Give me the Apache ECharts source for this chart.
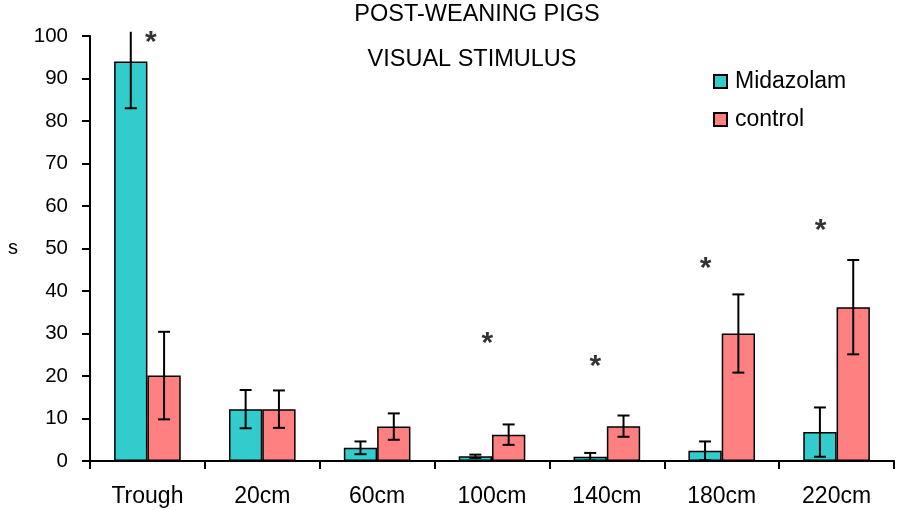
<!DOCTYPE html>
<html>
<head>
<meta charset="utf-8">
<script src="https://cdn.jsdelivr.net/npm/echarts@6/dist/echarts.min.js"></script>
<style>html,body{margin:0;padding:0;background:#fff;}#c{width:897px;height:510px;}</style>
</head>
<body>
<div id="c"></div>
<script>
const categories = ['Trough', '20cm', '60cm', '100cm', '140cm', '180cm', '220cm'];
const midazolam = [94.0, 12.2, 3.1, 1.1, 1.0, 2.4, 6.8];
const midazolamErr = [11.0, 4.5, 1.5, 0.4, 0.9, 2.2, 5.8];
const control = [20.1, 12.2, 8.1, 6.2, 8.2, 30.0, 36.2];
const controlErr = [10.3, 4.4, 3.1, 2.4, 2.5, 9.2, 11.1];
// significance asterisks: [position along category axis (0..7), value]
const asterisks = [[0.53, 99.7], [3.46, 28.7], [4.40, 23.3], [5.36, 46.3], [6.36, 55.3]];
const yMin = 0, yMax = 100, yStep = 10;
const errClip = 101;

const FONT = '"Liberation Sans", Arial, sans-serif';
const BAR_FRAC = 0.58;

function errRender(side) {
  return function (params, api) {
    const i = api.value(0), v = api.value(1), e = api.value(2);
    const bandW = api.size([1, 0])[0];
    const barW = bandW * BAR_FRAC / 2;
    const cx = api.coord([i, v])[0] + side * barW / 2;
    const hiVal = Math.min(v + e, errClip);
    const yHi = api.coord([i, hiVal])[1];
    const yLo = api.coord([i, v - e])[1];
    const cap = 6;
    const st = { stroke: '#000', lineWidth: 2 };
    const children = [
      { type: 'line', shape: { x1: cx, y1: yHi, x2: cx, y2: yLo }, style: st },
      { type: 'line', shape: { x1: cx - cap, y1: yLo, x2: cx + cap, y2: yLo }, style: st }
    ];
    if (v + e <= errClip) {
      children.push({ type: 'line', shape: { x1: cx - cap, y1: yHi, x2: cx + cap, y2: yHi }, style: st });
    }
    return { type: 'group', children: children };
  };
}

const chart = echarts.init(document.getElementById('c'), null, { renderer: 'canvas' });
chart.setOption({
  animation: false,
  backgroundColor: '#fff',
  textStyle: { fontFamily: FONT },
  graphic: [
    { type: 'text', x: 477, y: 15, style: { text: 'POST-WEANING PIGS', font: '23.5px ' + FONT, fill: '#000', textAlign: 'center', textVerticalAlign: 'middle' } },
    { type: 'text', x: 472, y: 59.5, style: { text: 'VISUAL STIMULUS', font: '23.5px ' + FONT, fill: '#000', textAlign: 'center', textVerticalAlign: 'middle' } }
  ],
  legend: {
    left: 708, top: 65, orient: 'vertical', itemGap: 15,
    itemWidth: 13, itemHeight: 13, icon: 'rect',
    textStyle: { fontSize: 23, color: '#000', fontFamily: FONT, padding: [0, 0, 0, 3] },
    data: ['Midazolam', 'control']
  },
  grid: { left: 90, right: 3, top: 36, bottom: 49, containLabel: false },
  xAxis: [
    {
      type: 'category', data: categories,
      axisLine: { lineStyle: { color: '#000', width: 2 } },
      axisTick: { show: true, length: 8, lineStyle: { color: '#000', width: 2 } },
      axisLabel: { color: '#000', fontSize: 23, margin: 24, fontFamily: FONT },
      splitLine: { show: false }
    },
    { type: 'value', min: 0, max: 7, show: false }
  ],
  yAxis: {
    type: 'value', min: yMin, max: yMax, interval: yStep,
    name: 's', nameLocation: 'middle', nameRotate: 0, nameGap: 72,
    nameTextStyle: { fontSize: 20, color: '#000', fontFamily: FONT },
    axisLine: { show: true, lineStyle: { color: '#000', width: 2 } },
    axisTick: { show: true, length: 8, lineStyle: { color: '#000', width: 2 } },
    axisLabel: { color: '#000', fontSize: 20.5, margin: 22, fontFamily: FONT },
    splitLine: { show: false }
  },
  series: [
    {
      name: 'Midazolam', type: 'bar', data: midazolam, barGap: '0%', barCategoryGap: '42%',
      itemStyle: { color: '#33CCCC', borderColor: '#000', borderWidth: 1.5 }
    },
    {
      name: 'control', type: 'bar', data: control, barGap: '0%', barCategoryGap: '42%',
      itemStyle: { color: '#FF8080', borderColor: '#000', borderWidth: 1.5 }
    },
    {
      type: 'custom', renderItem: errRender(-1), clip: false, z: 5,
      data: midazolam.map((v, i) => [i, v, midazolamErr[i]])
    },
    {
      type: 'custom', renderItem: errRender(1), clip: false, z: 5,
      data: control.map((v, i) => [i, v, controlErr[i]])
    },
    {
      type: 'scatter', xAxisIndex: 1, symbolSize: 1, itemStyle: { color: 'rgba(0,0,0,0)' },
      data: asterisks,
      label: { show: true, position: 'inside', formatter: '*', fontSize: 30, fontWeight: 'bold', color: '#000', offset: [0, 5], fontFamily: FONT },
      z: 6
    }
  ]
});
</script>
</body>
</html>
